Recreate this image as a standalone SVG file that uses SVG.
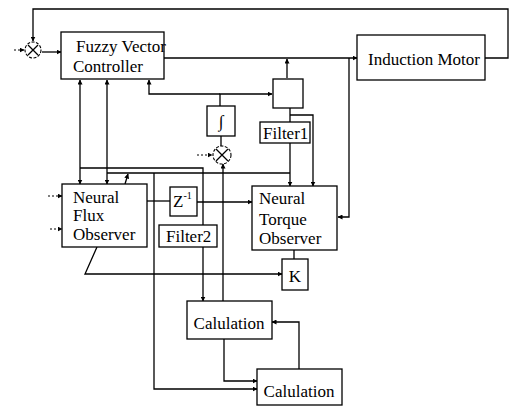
<svg xmlns="http://www.w3.org/2000/svg" width="514" height="406" viewBox="0 0 514 406" font-family="'Liberation Serif', 'DejaVu Serif', serif">
<defs>
<marker id="ah" viewBox="0 0 10 10" refX="9" refY="5" markerWidth="5" markerHeight="5" orient="auto-start-reverse" markerUnits="userSpaceOnUse">
<path d="M0,0 L10,5 L0,10 Z" fill="#000"/>
</marker>
<style>
.box{fill:#fff;stroke:#000;stroke-width:1.3}
.ln{fill:none;stroke:#000;stroke-width:1.3}
.dl{fill:none;stroke:#000;stroke-width:1;stroke-dasharray:2 2}
.t{font-family:'Liberation Serif','DejaVu Serif',serif;font-size:17px;fill:#000}
.sj{fill:none;stroke:#000;stroke-width:1.1;stroke-dasharray:3 1.5}
</style>
</defs>
<rect width="514" height="406" fill="#fff"/>
<g id="connectors">
<path class="ln" d="M485,58 H508 V9 H33 V41" marker-end="url(#ah)"/>
<path class="dl" d="M14,50 H24" marker-end="url(#ah)"/>
<path class="ln" d="M42,52 H61" marker-end="url(#ah)"/>
<path class="ln" d="M164,58 H357" marker-end="url(#ah)"/>
<path class="ln" d="M287,78 V59" marker-end="url(#ah)"/>
<path class="ln" d="M349,58 V217 H338" marker-end="url(#ah)"/>
<path class="ln" d="M220,106 V94 H272" marker-end="url(#ah)"/>
<path class="ln" d="M220,94 H149 V80" marker-end="url(#ah)"/>
<path class="ln" d="M221,136 V146"/>
<path class="dl" d="M197,155 H212" marker-end="url(#ah)"/>
<path class="ln" d="M223,301 V164" marker-end="url(#ah)"/>
<path class="ln" d="M290,108 V122"/>
<path class="ln" d="M290,115 H313 V186" marker-end="url(#ah)"/>
<path class="ln" d="M290,143 V186" marker-end="url(#ah)"/>
<path class="ln" d="M107,173 H290"/>
<path class="ln" d="M125,184 L128,174" marker-end="url(#ah)"/>
<path class="ln" d="M80,168 V80" marker-end="url(#ah)"/>
<path class="ln" d="M80,168 V184" marker-end="url(#ah)"/>
<path class="ln" d="M107,173 V80" marker-end="url(#ah)"/>
<path class="ln" d="M107,173 V184" marker-end="url(#ah)"/>
<path class="ln" d="M80,168 H203 V225"/>
<path class="ln" d="M147,201 H170"/>
<path class="ln" d="M197,202 H252" marker-end="url(#ah)"/>
<path class="ln" d="M154,173 V389 H257" marker-end="url(#ah)"/>
<path class="ln" d="M203,247 V301" marker-end="url(#ah)"/>
<path class="ln" d="M97,247 L85,274 H282" marker-end="url(#ah)"/>
<path class="ln" d="M294,250 V259"/>
<path class="ln" d="M224,339 V381 H257" marker-end="url(#ah)"/>
<path class="ln" d="M299,369 V322 H272" marker-end="url(#ah)"/>
<path class="dl" d="M48,196 H62" marker-end="url(#ah)"/>
<path class="dl" d="M50,229 H62" marker-end="url(#ah)"/>
</g>
<g id="sum1">
<circle class="sj" cx="33" cy="50" r="8"/>
<path class="ln" d="M28,45 L38,55 M38,45 L28,55" stroke-width="1"/>
</g>
<g id="sum2">
<circle class="sj" cx="222" cy="155" r="9"/>
<path class="ln" d="M216,149 L228,161 M228,149 L216,161" stroke-width="1"/>
</g>
<g id="fuzzy">
<rect class="box" x="61" y="32" width="103" height="47"/>
<text class="t" x="76" y="52" font-size="16">Fuzzy Vector</text>
<text class="t" x="73" y="72" font-size="16">Controller</text>
</g>
<g id="motor">
<rect class="box" x="357" y="35" width="128" height="45"/>
<text class="t" x="368" y="65">Induction Motor</text>
</g>
<g id="smallbox">
<rect class="box" x="273" y="79" width="30" height="29"/>
</g>
<g id="integrator">
<rect class="box" x="207" y="106" width="28" height="30"/>
<text class="t" x="221" y="127" text-anchor="middle" font-size="18">∫</text>
</g>
<g id="filter1">
<rect class="box" x="260" y="122" width="50" height="21"/>
<text class="t" x="263" y="139" font-size="16.5">Filter1</text>
</g>
<g id="flux">
<rect class="box" x="62" y="184" width="85" height="63"/>
<text class="t" x="73" y="203">Neural</text>
<text class="t" x="73" y="221">Flux</text>
<text class="t" x="73" y="240">Observer</text>
</g>
<g id="zinv">
<rect class="box" x="170" y="187" width="27" height="29"/>
<text class="t" x="173" y="207">Z<tspan font-size="10" dy="-8">-1</tspan></text>
</g>
<g id="filter2">
<rect class="box" x="159" y="225" width="58" height="22"/>
<text class="t" x="166" y="242">Filter2</text>
</g>
<g id="torque">
<rect class="box" x="252" y="186" width="85" height="64"/>
<text class="t" x="259" y="204">Neural</text>
<text class="t" x="259" y="225">Torque</text>
<text class="t" x="259" y="244">Observer</text>
</g>
<g id="k">
<rect class="box" x="282" y="259" width="26" height="31"/>
<text class="t" x="295" y="282" text-anchor="middle">K</text>
</g>
<g id="calc1">
<rect class="box" x="187" y="301" width="85" height="38"/>
<text class="t" x="229" y="329" text-anchor="middle">Calulation</text>
</g>
<g id="calc2">
<rect class="box" x="257" y="369" width="85" height="36"/>
<text class="t" x="299" y="397" text-anchor="middle">Calulation</text>
</g>
</svg>
